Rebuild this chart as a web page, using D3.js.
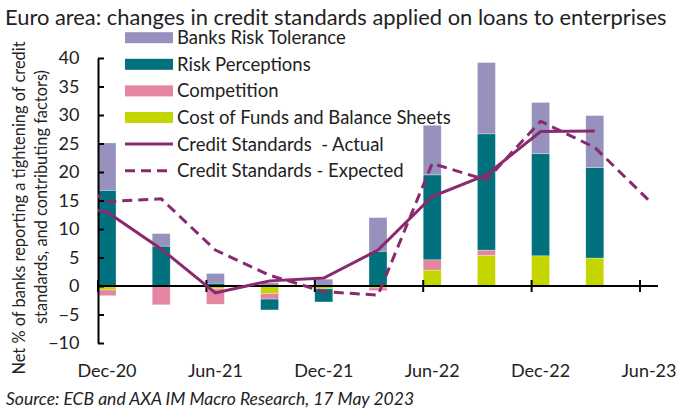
<!doctype html>
<html>
<head>
<meta charset="utf-8">
<title>Euro area credit standards</title>
<script src="https://d3js.org/d3.v7.min.js"></script>
<style>
body { margin: 0; background: #fff; }
text { font-family: Lato, "Open Sans", sans-serif; fill: #222; }
</style>
</head>
<body>
<svg id="chart" width="676" height="412"></svg>
<script>
// quarters (Sep-20 sits left of the plot, only its line segments peek in)
var quarters = ["Sep-20", "Dec-20", "Mar-21", "Jun-21", "Sep-21", "Dec-21", "Mar-22", "Jun-22", "Sep-22", "Dec-22", "Mar-23", "Jun-23"];
var tickLabels = ["Dec-20", "Jun-21", "Dec-21", "Jun-22", "Dec-22", "Jun-23"];
var yTicks = [-10, -5, 0, 5, 10, 15, 20, 25, 30, 35, 40];

var costOfFunds     = [null, -0.7, 0,    -0.5, -1.3, -0.5, -0.35, 2.8, 5.4, 5.3, 4.9, null];
var competition     = [null, -1.0, -3.3, -2.7, -1.0, 0,    -0.45, 1.8, 0.9, 0,   -0.2, null];
var riskPerceptions = [null, 16.8, 7.0,  0.5,  -1.9, -2.3, 6.1,  14.9, 20.4, 17.9, 15.9, null];
var riskTolerance   = [null, 8.3,  2.2,  1.7,  0.6,  1.2,  5.9,  8.7, 12.5, 9.0, 9.1, null];
var actual          = [14.8, 13.0, 6.5,  -1.2, 0.9,  1.4,  6.3,  15.7, 19.5, 27.1, 27.2, null];
var expected        = [21.0, 14.8, 15.3, 6.3,  1.9,  -1.0, -1.6, 21.5, 18.6, 28.9, 24.3, 15.0];

var barKeys = ["cost", "comp", "perc", "tol"];
var barNames = {
    tol: "Banks Risk Tolerance",
    perc: "Risk Perceptions",
    comp: "Competition",
    cost: "Cost of Funds and Balance Sheets"
};
var colors = { tol: "#9691bd", perc: "#00717d", comp: "#e585a2", cost: "#c5d500" };
var lineColor = "#8a2a6e";

var rows = quarters.map((q, i) => ({
    q: q,
    cost: costOfFunds[i] || 0,
    comp: competition[i] || 0,
    perc: riskPerceptions[i] || 0,
    tol: riskTolerance[i] || 0
}));

var PLOT_LEFT = 98, PLOT_RIGHT = 658;
var PAD = 0.668;
var svg = d3.select("#chart");

// full range includes the hidden Sep-20 slot to the left of the plot
var step = (PLOT_RIGHT - PLOT_LEFT) / (quarters.length - 1 - PAD);
var x = d3.scaleBand().domain(quarters).paddingInner(PAD).paddingOuter(0)
    .range([PLOT_LEFT - step, PLOT_RIGHT]);
var y = d3.scaleLinear().domain([-10, 40]).range([343, 58]);
var bw = x.bandwidth();

// title
svg.append("text").attr("x", 5).attr("y", 25)
    .style("font-size", "21.9px")
    .text("Euro area: changes in credit standards applied on loans to enterprises");

// bars
var stacked = d3.stack().keys(barKeys).offset(d3.stackOffsetDiverging)(rows);
svg.append("g").selectAll("g")
    .data(stacked)
    .join("g")
    .attr("fill", d => colors[d.key])
    .selectAll("rect")
    .data(d => d.filter(s => s[1] - s[0] !== 0))
    .join("rect")
    .attr("x", d => x(d.data.q))
    .attr("y", d => y(d[1]))
    .attr("width", bw)
    .attr("height", d => y(d[0]) - y(d[1]))
    .attr("stroke", "rgba(255,255,255,0.5)")
    .attr("stroke-width", 0.6);

// y axis
var yAxis = d3.axisLeft(y).tickValues(yTicks).tickSizeInner(-6).tickSizeOuter(0).tickPadding(18.5);
var yg = svg.append("g").attr("transform", `translate(${PLOT_LEFT},0)`).call(yAxis);
yg.select(".domain").attr("stroke", "#000").attr("stroke-width", 2);
yg.selectAll(".tick line").attr("stroke", "#000").attr("stroke-width", 2);
yg.selectAll(".tick text").style("font-size", "18px").style("font-family", "Lato, 'Open Sans', sans-serif").attr("fill", "#222");

// x axis at zero
var x0 = y(0);
svg.append("line").attr("x1", PLOT_LEFT).attr("x2", PLOT_RIGHT).attr("y1", x0).attr("y2", x0)
    .attr("stroke", "#000").attr("stroke-width", 2);
svg.append("g").selectAll("line")
    .data(tickLabels)
    .join("line")
    .attr("x1", d => x(d)).attr("x2", d => x(d))
    .attr("y1", x0 - 6).attr("y2", x0 + 6)
    .attr("stroke", "#000").attr("stroke-width", 2);
svg.append("g").selectAll("text")
    .data(tickLabels)
    .join("text")
    .attr("x", d => x(d) + bw / 2)
    .attr("y", 377)
    .attr("text-anchor", "middle")
    .style("font-size", "18px")
    .text(d => d);

// lines, clipped at the y axis
svg.append("clipPath").attr("id", "plotclip")
    .append("rect").attr("x", PLOT_LEFT).attr("y", 0).attr("width", 676 - PLOT_LEFT).attr("height", 412);
var lineGen = d3.line()
    .defined(d => d.v != null)
    .x(d => x(d.q) + bw / 2)
    .y(d => y(d.v));
var lg = svg.append("g").attr("clip-path", "url(#plotclip)");
lg.append("path")
    .datum(quarters.map((q, i) => ({ q: q, v: actual[i] })))
    .attr("d", lineGen)
    .attr("fill", "none").attr("stroke", lineColor).attr("stroke-width", 3);
lg.append("path")
    .datum(quarters.map((q, i) => ({ q: q, v: expected[i] })))
    .attr("d", lineGen)
    .attr("fill", "none").attr("stroke", lineColor).attr("stroke-width", 3)
    .attr("stroke-dasharray", "10,6");

// legend
var legendItems = [
    { name: barNames.tol, type: "bar", color: colors.tol },
    { name: barNames.perc, type: "bar", color: colors.perc },
    { name: barNames.comp, type: "bar", color: colors.comp },
    { name: barNames.cost, type: "bar", color: colors.cost },
    { name: "Credit Standards  - Actual", type: "line" },
    { name: "Credit Standards - Expected", type: "dash" }
];
var leg = svg.append("g").selectAll("g")
    .data(legendItems)
    .join("g")
    .attr("transform", (d, i) => `translate(125,${37.7 + i * 26.6})`);
leg.filter(d => d.type === "bar").append("rect")
    .attr("x", 0).attr("y", -5.5).attr("width", 48).attr("height", 11)
    .attr("fill", d => d.color);
leg.filter(d => d.type !== "bar").append("line")
    .attr("x1", 0).attr("x2", 48).attr("y1", 0).attr("y2", 0)
    .attr("stroke", lineColor).attr("stroke-width", 3)
    .attr("stroke-dasharray", d => d.type === "dash" ? "10,6" : null);
leg.append("text")
    .attr("x", 52).attr("y", 0).attr("dy", "0.35em")
    .style("font-size", "18.5px")
    .style("white-space", "pre")
    .text(d => d.name);

// y axis title
var yTitle = ["Net % of banks reporting a tightening of credit", "standards, and contributing factors)"];
svg.append("g").selectAll("text")
    .data(yTitle)
    .join("text")
    .attr("transform", (d, i) => i === 0 ? "translate(19,208) rotate(-90)" : "translate(41,197) rotate(-90)")
    .attr("text-anchor", "middle")
    .attr("dy", "0.35em")
    .style("font-size", "16.4px")
    .text(d => d);

// source
svg.append("text").attr("x", 6).attr("y", 405)
    .style("font-size", "17.5px").style("font-style", "italic")
    .text("Source: ECB and AXA IM Macro Research, 17 May 2023");
</script>
</body>
</html>
